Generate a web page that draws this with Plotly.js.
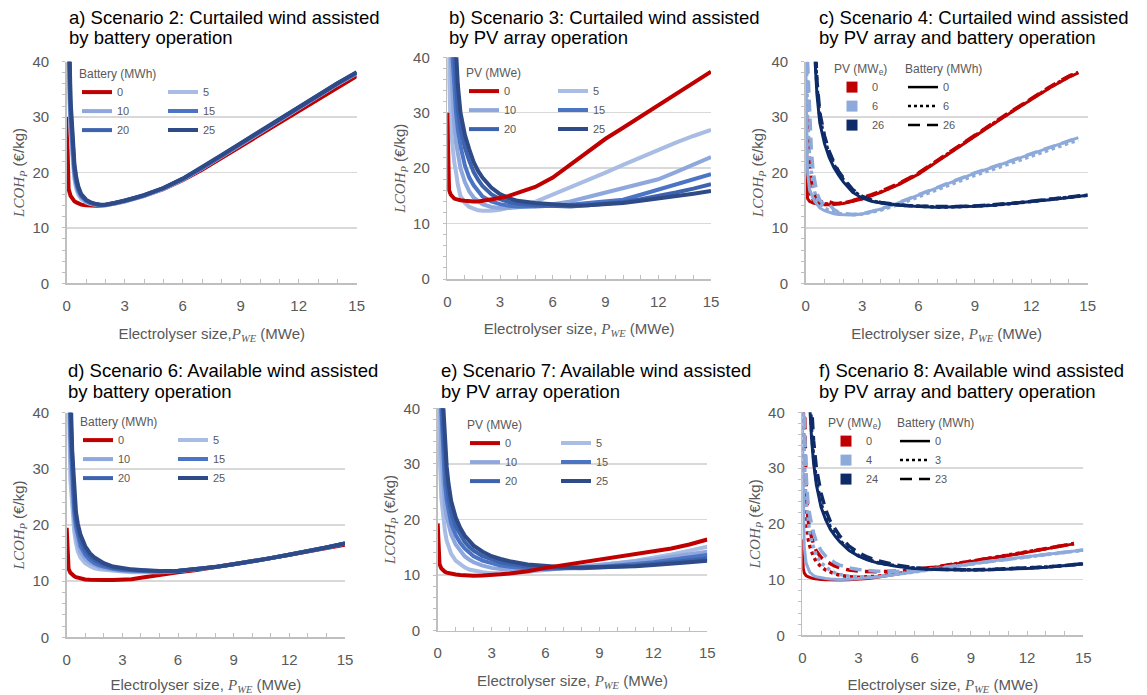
<!DOCTYPE html>
<html><head><meta charset="utf-8">
<script src="https://cdn.plot.ly/plotly-3.0.1.min.js"></script>
<style>html,body{margin:0;padding:0;background:#fff}</style>
</head><body><div id="chart" style="width:1147px;height:695px"></div>
<script>
// ---- x grids (electrolyser size, MWe)
const xSize  = [0,0.05,0.1,0.2,0.3,0.4,0.5,0.6,0.75,1,1.25,1.5,1.75,2,2.5,3,3.5,4,5,6,7,8,9,10,11,12,13,14,15];
const xSizeB = [0,0.05,0.1,0.2,0.3,0.4,0.5,0.6,0.75,1,1.25,1.5,1.75,2,2.5,3,3.5,4,5,6,7,8,9,10,11,12,13,14,14.5,15];

// ---- a) Scenario 2: battery sizes (MWh)
const batLabelsA = ['0','5','10','15','20','25'];
const aBat0  = [30,19,17,15.8,15.2,14.8,14.6,14.4,14.2,14.1,14.0,14.0,14.0,14.1,14.4,14.8,15.3,15.8,17.0,18.6,20.5,22.6,24.8,27.0,29.1,31.2,33.3,35.4,37.4];
const aBat5  = [null,70,38,27,22,18.7,17.0,16.0,15.2,14.6,14.3,14.15,14.05,14.05,14.35,14.75,15.25,15.75,17.05,18.7,20.7,22.9,25.1,27.3,29.5,31.7,33.8,35.9,37.9];
const aBat10 = [null,80,41,28.5,23,19.4,17.5,16.4,15.5,14.8,14.4,14.2,14.1,14.1,14.4,14.8,15.3,15.8,17.1,18.75,20.75,22.95,25.15,27.35,29.55,31.75,33.85,35.95,37.95];
const aBat15 = [null,90,44,30,24,20.1,18.0,16.8,15.7,14.9,14.45,14.2,14.1,14.15,14.45,14.85,15.35,15.85,17.15,18.8,20.8,23.0,25.2,27.4,29.6,31.8,33.9,36.0,38.0];
const aBat20 = [null,100,47,31.5,25,20.8,18.5,17.1,15.9,15.0,14.5,14.25,14.15,14.2,14.5,14.9,15.4,15.9,17.2,18.85,20.85,23.05,25.25,27.45,29.65,31.85,33.95,36.05,38.05];
const aBat25 = [null,110,50,33,26,21.5,19,17.5,16.1,15.1,14.6,14.3,14.2,14.2,14.5,14.9,15.4,15.9,17.2,18.9,20.9,23.1,25.3,27.5,29.7,31.9,34.0,36.1,38.1];

// ---- b) Scenario 3: PV sizes (MWe)
const pvLabelsB = ['0','5','10','15','20','25'];
const bPV0  = [30,18,16,15.2,14.8,14.5,14.4,14.3,14.2,14.1,14.0,14.0,14.0,14.1,14.3,14.6,15.0,15.5,16.6,18.3,20.7,23.1,25.3,27.3,29.3,31.3,33.3,35.3,37.4];
const bPV5  = [null,60,36,27,23.5,21,19.2,17,15,13.7,13.0,12.6,12.4,12.3,12.3,12.5,12.8,13.2,13.9,15.2,16.6,17.9,19.2,20.6,22.0,23.4,24.6,25.8,26.9];
const bPV10 = [null,120,70,40,32.5,27.5,24.5,22.3,20,17.5,15.8,14.7,14.0,13.5,13.0,12.8,12.8,12.9,13.2,13.5,14.0,14.8,15.6,16.4,17.2,18.0,19.3,20.6,22.0];
const bPV15 = [null,200,120,60,40,34,30,27,24,20.5,18.3,16.9,15.8,14.9,14.0,13.5,13.2,13.1,13.1,13.2,13.4,13.7,14.0,14.3,15.2,16.1,17.0,17.9,18.9];
const bPV20 = [null,300,200,90,55,40,34,30.5,27.2,23.7,21.3,19.3,17.9,16.8,15.3,14.4,13.9,13.6,13.3,13.15,13.1,13.3,13.55,13.9,14.4,14.95,15.6,16.3,17.1];
const bPV25 = [null,400,300,130,75,52,41,35,30,26,23.4,21.1,19.5,18.3,16.5,15.3,14.6,14.1,13.7,13.4,13.25,13.3,13.45,13.7,14.1,14.5,14.95,15.4,15.9];

// ---- c) Scenario 4: PV (MWe) x battery (MWh)
const pvLabelsC  = ['0','6','26'];
const batLabelsC = ['0','6','26'];
const cPV0Bat0   = [22,16.5,15.3,14.8,14.6,14.5,14.4,14.35,14.3,14.2,14.2,14.2,14.3,14.4,14.8,15.2,15.8,16.4,17.9,19.7,22.0,24.3,26.5,28.8,31.0,33.2,35.3,37.2,38.0,null];
const cPV0Bat6   = [null,24,19,16.5,15.6,15.1,14.8,14.6,14.45,14.35,14.3,14.3,14.4,14.5,14.9,15.3,15.9,16.5,18.0,19.8,22.1,24.4,26.6,28.9,31.1,33.3,35.4,37.3,38.1,null];
const cPV0Bat26  = [null,40,30,22,18.5,16.8,15.8,15.2,14.8,14.6,14.7,14.4,14.4,14.5,14.9,15.4,16.0,16.6,18.1,19.9,22.2,24.5,26.7,29.0,31.2,33.4,35.5,37.4,38.2,null];
const cPV6Bat0   = [40,25,20,17,16,15.3,14.7,14.2,13.6,13.1,12.8,12.55,12.4,12.35,12.35,12.5,12.9,13.4,14.6,15.9,17.3,18.6,19.9,21.0,22.2,23.4,24.5,25.7,26.3,null];
const cPV6Bat6   = [null,38,30,23,19.5,17.5,16.2,15.3,14.4,13.6,13.1,12.8,12.6,12.5,12.4,12.5,12.8,13.2,14.3,15.6,16.9,18.2,19.5,20.6,21.8,23.0,24.1,25.3,25.8,null];
const cPV6Bat26  = [null,null,40,30,24,20,17.8,16.3,15.0,14.2,14.3,13.3,12.8,12.6,12.4,12.55,12.95,13.45,14.65,15.95,17.35,18.65,19.95,21.05,22.25,23.45,24.55,25.75,26.3,null];
const cPV26Bat0  = [null,null,null,null,90,55,40,34,29,25.2,22.7,20.9,19.5,18.3,16.4,15.4,14.8,14.5,14.1,13.85,13.75,13.8,13.9,14.1,14.4,14.75,15.1,15.5,15.7,15.9];
const cPV26Bat6  = [null,null,null,null,null,60,42,35.5,30,26,23.3,21.4,19.9,18.7,16.7,15.6,14.9,14.55,14.1,13.85,13.75,13.8,13.9,14.1,14.4,14.75,15.1,15.5,15.7,15.9];
const cPV26Bat26 = [null,null,null,null,null,65,44,36.5,30.8,26.6,23.8,21.8,20.2,19.0,16.9,15.7,15.0,14.6,14.15,13.9,13.8,13.85,13.95,14.15,14.45,14.8,15.15,15.55,15.75,15.95];

// ---- d) Scenario 6: battery sizes (MWh)
const batLabelsD = ['0','5','10','15','20','25'];
const dBat0  = [19.5,13.5,12.2,11.5,11.1,10.9,10.7,10.6,10.45,10.3,10.25,10.2,10.2,10.2,10.2,10.25,10.35,10.6,11.15,11.6,12.0,12.5,13.0,13.5,14.1,14.7,15.3,15.9,16.5];
const dBat5  = [null,90,45,28,22,19,16.8,15.3,14.2,13.2,12.7,12.3,12.1,12.0,11.8,11.7,11.6,11.6,11.6,11.8,12.1,12.5,13.0,13.5,14.1,14.7,15.3,16.0,16.7];
const dBat10 = [null,110,55,32,25,21,18.5,16.8,15.2,14.0,13.3,12.8,12.5,12.3,12.0,11.85,11.75,11.7,11.7,11.8,12.1,12.5,13.0,13.5,14.1,14.7,15.3,16.0,16.7];
const dBat15 = [null,130,65,36,27.5,22.5,19.7,18.0,16.2,14.7,13.8,13.2,12.8,12.6,12.2,12.0,11.85,11.8,11.7,11.8,12.1,12.5,13.0,13.5,14.1,14.7,15.3,16.0,16.7];
const dBat20 = [null,150,75,40,30,24,21,19.2,17.2,15.4,14.4,13.7,13.2,12.9,12.4,12.15,12.0,11.9,11.75,11.8,12.1,12.5,13.0,13.5,14.1,14.7,15.3,16.0,16.7];
const dBat25 = [null,170,85,45,33,26,22.3,20.2,18.2,16.2,15.0,14.2,13.6,13.2,12.6,12.3,12.1,12.0,11.8,11.85,12.1,12.5,13.0,13.5,14.1,14.7,15.3,16.0,16.7];

// ---- e) Scenario 7: PV sizes (MWe)
const pvLabelsE = ['0','5','10','15','20','25'];
const ePV0  = [19.3,13.5,12.0,11.2,10.8,10.6,10.45,10.35,10.25,10.1,10.0,9.95,9.9,9.9,9.95,10.0,10.15,10.3,10.7,11.3,11.8,12.2,12.7,13.2,13.7,14.2,14.8,15.5,16.4];
const ePV5  = [null,50,33,24,20.5,18,16.2,15,13.8,12.6,11.9,11.4,11.0,10.8,10.5,10.35,10.3,10.35,10.6,10.9,11.2,11.5,11.8,12.2,12.6,13.1,13.7,14.4,15.1];
const ePV10 = [null,90,50,32,26,22.5,20.5,19,17.3,15.5,14.3,13.4,12.8,12.3,11.7,11.3,11.1,11.0,10.9,11.0,11.2,11.5,11.8,12.1,12.4,12.8,13.3,13.7,14.2];
const ePV15 = [null,130,70,40,31,26.5,23.5,21.5,19.3,17.2,15.8,14.8,14.0,13.4,12.6,12.1,11.7,11.5,11.2,11.1,11.15,11.3,11.5,11.7,12.0,12.3,12.7,13.1,13.6];
const ePV20 = [null,170,90,48,36,30,26.5,24,21.3,18.8,17.2,16.0,15.1,14.4,13.4,12.8,12.3,12.0,11.5,11.3,11.2,11.25,11.35,11.5,11.7,12.0,12.3,12.6,13.0];
const ePV25 = [null,210,110,56,41,34,29.5,26.5,23.3,20.4,18.5,17.1,16.1,15.3,14.2,13.4,12.9,12.5,11.9,11.6,11.4,11.35,11.4,11.5,11.6,11.8,12.0,12.3,12.6];

// ---- f) Scenario 8: PV (MWe) x battery (MWh)
const pvLabelsF  = ['0','4','24'];
const batLabelsF = ['0','3','23'];
const fPV0Bat0   = [17.2,12,11.2,10.7,10.5,10.35,10.25,10.2,10.1,10.0,9.95,9.9,9.9,9.9,9.95,10.05,10.2,10.4,10.9,11.5,12.1,12.7,13.2,13.8,14.3,14.9,15.5,16.1,16.4,null];
const fPV0Bat3   = [null,40,29,20.5,17.5,16,15,14.1,13.2,12.3,11.7,11.3,11.0,10.8,10.5,10.4,10.45,10.6,11.0,11.55,12.15,12.75,13.25,13.85,14.35,14.95,15.55,16.15,16.45,null];
const fPV0Bat23  = [null,80,45,27,21,18.8,17.3,16.3,15.1,14.0,13.3,12.8,12.4,12.1,11.7,11.5,11.4,11.4,11.5,11.8,12.2,12.75,13.25,13.85,14.35,14.95,15.55,16.15,16.45,null];
const fPV4Bat0   = [40,22,16,13,12,11.3,11.0,10.7,10.5,10.3,10.2,10.1,10.05,10.0,10.05,10.15,10.3,10.45,10.9,11.4,11.9,12.4,12.85,13.3,13.7,14.1,14.5,14.9,15.1,15.3];
const fPV4Bat3   = [null,45,33,24,20.5,18.3,16.8,15.6,14.3,13.0,12.2,11.6,11.2,10.9,10.6,10.45,10.45,10.55,10.9,11.35,11.85,12.35,12.8,13.25,13.65,14.05,14.45,14.85,15.05,15.25];
const fPV4Bat23  = [null,70,40,29,24,21.5,19.8,18.4,16.8,15.2,14.2,13.5,13.0,12.6,12.1,11.8,11.6,11.5,11.45,11.6,11.95,12.4,12.85,13.3,13.7,14.1,14.5,14.9,15.1,15.3];
const fPV24Bat0  = [null,null,null,120,70,41,35,31,27,23,20.7,19.0,17.8,16.8,15.2,14.2,13.5,13.0,12.4,12.0,11.8,11.7,11.7,11.75,11.85,12.0,12.2,12.45,12.6,12.8];
const fPV24Bat3  = [null,null,null,130,75,44,36.5,32,27.8,23.6,21.2,19.4,18.1,17.0,15.4,14.3,13.6,13.05,12.45,12.05,11.85,11.75,11.75,11.8,11.9,12.05,12.25,12.5,12.65,12.85];
const fPV24Bat23 = [null,null,null,null,80,55,41,35,30,25.5,22.5,20.4,19.0,17.8,16.0,14.8,14.0,13.4,12.6,12.1,11.85,11.75,11.75,11.8,11.9,12.05,12.25,12.5,12.65,12.85];

// ---- text
const panelTitles = [
  ['a) Scenario 2: Curtailed wind assisted','by battery operation'],
  ['b) Scenario 3: Curtailed wind assisted','by PV array operation'],
  ['c) Scenario 4: Curtailed wind assisted','by PV array and battery operation'],
  ['d) Scenario 6: Available wind assisted','by battery operation'],
  ['e) Scenario 7: Available wind assisted','by PV array operation'],
  ['f) Scenario 8: Available wind assisted','by PV array and battery operation']
];
const xTickVals = [0,3,6,9,12,15];
const yTickVals = [0,10,20,30,40];

// ---- styling
const W = 1147, H = 695;
const RED = '#C00000';
const BLUES = ['#A9BCE4','#8EA8DE','#4B74C5','#3D63AF','#2E4A87'];
const LIGHT = '#8EAADB', NAVY = '#0E2B68';
const GREY = '#595959';
const SERIF = 'font-family:Liberation Serif;font-style:italic';
const yTitle = '<span style="' + SERIF + '">LCOH<sub>P</sub></span> (€/kg)';
const xTitleA = 'Electrolyser size,<span style="' + SERIF + '">P<sub>WE</sub></span> (MWe)';
const xTitle = 'Electrolyser size, <span style="' + SERIF + '">P<sub>WE</sub></span> (MWe)';

// plot-area boxes in pixels [left,right,top,bottom]
const boxes = [
  [66.7,356.7,61.7,283.3],
  [447.3,711,57.3,279],
  [805.7,1087.7,61.7,283.3],
  [66.7,345,412.7,637.3],
  [437.7,707.3,408.3,630.7],
  [802.3,1083.3,412.3,635.3]
];
// title left x, first-line centre y, second-line centre y
const titlePos = [[68,17,38],[448,17,38],[818,17,38],[67,370,391],[440,370,391],[818,370,391]];

const traces = [];
function ax(i){ return i===0 ? '' : String(i+1); }
function addLine(i, x, y, color, width, dash, name, legend, show, rank){
  traces.push({type:'scatter', mode:'lines', x:x, y:y, name:name,
    xaxis:'x'+ax(i), yaxis:'y'+ax(i), legend:legend, showlegend:show,
    legendrank: rank, connectgaps:false,
    line:{color:color, width:width, dash:dash||'solid'}, hoverinfo:'skip'});
}
function addKey(i, name, legend, marker, line, rank){
  const t = {type:'scatter', x:[null], y:[null], name:name, xaxis:'x'+ax(i), yaxis:'y'+ax(i),
    legend:legend, showlegend:true, legendrank:rank, hoverinfo:'skip'};
  if(marker){ t.mode='markers'; t.marker={symbol:'square', size:11, color:marker}; }
  else { t.mode='lines'; t.line=line; }
  traces.push(t);
}

const LW = 4;
// a)
const aSeries = [aBat0,aBat5,aBat10,aBat15,aBat20,aBat25];
const colors6 = [RED].concat(BLUES);
aSeries.forEach((s,k)=> addLine(0, xSize, s, colors6[k], LW, 'solid', batLabelsA[k], (k%2===0)?'legend':'legend2', true, k+1));
// b) (red drawn on top)
const bSeries = [bPV0,bPV5,bPV10,bPV15,bPV20,bPV25];
[1,2,3,4,5,0].forEach(k=> addLine(1, xSize, bSeries[k], colors6[k], LW, 'solid', pvLabelsB[k], (k%2===0)?'legend3':'legend4', true, k+1));
// c)
const DASH = '12px,7px';
const cSeries = [[cPV0Bat0,cPV0Bat6,cPV0Bat26],[cPV6Bat0,cPV6Bat6,cPV6Bat26],[cPV26Bat0,cPV26Bat6,cPV26Bat26]];
const pvColors = [RED, LIGHT, NAVY];
const dashes = ['solid','dot',DASH];
const widths = [3,3.5,3.5];
cSeries.forEach((grp,p)=> grp.forEach((s,b)=> addLine(2, xSizeB, s, pvColors[p], widths[b], dashes[b], '', 'legend5', false, 100)));
pvLabelsC.forEach((l,k)=> addKey(2, l, 'legend5', pvColors[k], null, k+1));
batLabelsC.forEach((l,k)=> addKey(2, l, 'legend6', null, {color:'#000', width:2.5, dash:dashes[k]}, k+1));
// d)
const dSeries = [dBat0,dBat5,dBat10,dBat15,dBat20,dBat25];
dSeries.forEach((s,k)=> addLine(3, xSize, s, colors6[k], LW, 'solid', batLabelsD[k], (k%2===0)?'legend7':'legend8', true, k+1));
// e)
const eSeries = [ePV0,ePV5,ePV10,ePV15,ePV20,ePV25];
[1,2,3,4,5,0].forEach(k=> addLine(4, xSize, eSeries[k], colors6[k], LW, 'solid', pvLabelsE[k], (k%2===0)?'legend9':'legend10', true, k+1));
// f)
const fSeries = [[fPV0Bat0,fPV0Bat3,fPV0Bat23],[fPV4Bat0,fPV4Bat3,fPV4Bat23],[fPV24Bat0,fPV24Bat3,fPV24Bat23]];
fSeries.forEach((grp,p)=> grp.forEach((s,b)=> addLine(5, xSizeB, s, pvColors[p], widths[b], dashes[b], '', 'legend11', false, 100)));
pvLabelsF.forEach((l,k)=> addKey(5, l, 'legend11', pvColors[k], null, k+1));
batLabelsF.forEach((l,k)=> addKey(5, l, 'legend12', null, {color:'#000', width:2.5, dash:dashes[k]}, k+1));

const layout = {
  width:W, height:H, margin:{l:0,r:0,t:0,b:0},
  paper_bgcolor:'#ffffff', plot_bgcolor:'#ffffff',
  font:{family:'Liberation Sans, Arial, sans-serif', color:GREY, size:15},
  showlegend:true, hovermode:false, annotations:[]
};
boxes.forEach((b,i)=>{
  const s = ax(i);
  layout['xaxis'+s] = {domain:[b[0]/W, b[1]/W], anchor:'y'+s, range:[0,15], tickvals:xTickVals,
    showgrid:false, zeroline:false, showline:true, linecolor:'#BFBFBF', linewidth:1.5,
    ticks:'inside', ticklen:4, tickcolor:'#BFBFBF', tickwidth:1,
    minor:{dtick:1, tick0:0, ticks:'inside', ticklen:4, tickcolor:'#BFBFBF', showgrid:false},
    tickfont:{size:15, color:GREY}, ticklabelstandoff:8, fixedrange:true,
    title:{text: i===0 ? xTitleA : xTitle, font:{size:15, color:GREY}, standoff:15}};
  layout['yaxis'+s] = {domain:[1-b[3]/H, 1-b[2]/H], anchor:'x'+s, range:[0,40], tickvals:yTickVals,
    showgrid:true, gridcolor:'#D9D9D9', gridwidth:1.5, zeroline:false, showline:true,
    linecolor:'#BFBFBF', linewidth:1.5, ticks:'',
    minor:{dtick:2, tick0:0, ticks:'outside', ticklen:3, tickcolor:'#BFBFBF', showgrid:false},
    tickfont:{size:15, color:GREY}, ticklabelstandoff:13, fixedrange:true,
    title:{text:yTitle, font:{size:15, color:GREY}, standoff:4}};
  [1,2].forEach(ln=>{
    layout.annotations.push({xref:'paper', yref:'paper', x:titlePos[i][0]/W, y:1-titlePos[i][ln]/H,
      xanchor:'left', yanchor:'middle', align:'left', showarrow:false, text:panelTitles[i][ln-1],
      borderpad:0, font:{size:18.5, color:'#000000', family:'Liberation Sans, Arial, sans-serif'}});
  });
});
function leg(xpx, ypx, title){
  const o = {x:xpx/W, y:1-ypx/H, xanchor:'left', yanchor:'top', xref:'paper', yref:'paper',
    bgcolor:'rgba(0,0,0,0)', borderwidth:0, font:{size:11, color:GREY}, tracegroupgap:0,
    itemclick:false, itemdoubleclick:false};
  if(title) o.title = {text:title, font:{size:12, color:GREY}};
  return o;
}
layout.legend   = leg(77, 62, 'Battery (MWh)');
layout.legend2  = leg(163, 77.6, null);
layout.legend3  = leg(464, 61, 'PV (MWe)');
layout.legend4  = leg(553, 76.6, null);
layout.legend5  = leg(832, 57, 'PV (MW<sub>e</sub>)');
layout.legend6  = leg(903, 57, 'Battery (MWh)');
layout.legend7  = leg(78, 410, 'Battery (MWh)');
layout.legend8  = leg(173, 425.6, null);
layout.legend9  = leg(465, 413, 'PV (MWe)');
layout.legend10 = leg(556, 428.6, null);
layout.legend11 = leg(826, 411, 'PV (MW<sub>e</sub>)');
layout.legend12 = leg(895, 411, 'Battery (MWh)');

Plotly.newPlot('chart', traces, layout, {displayModeBar:false, staticPlot:true});
</script>
</body></html>
